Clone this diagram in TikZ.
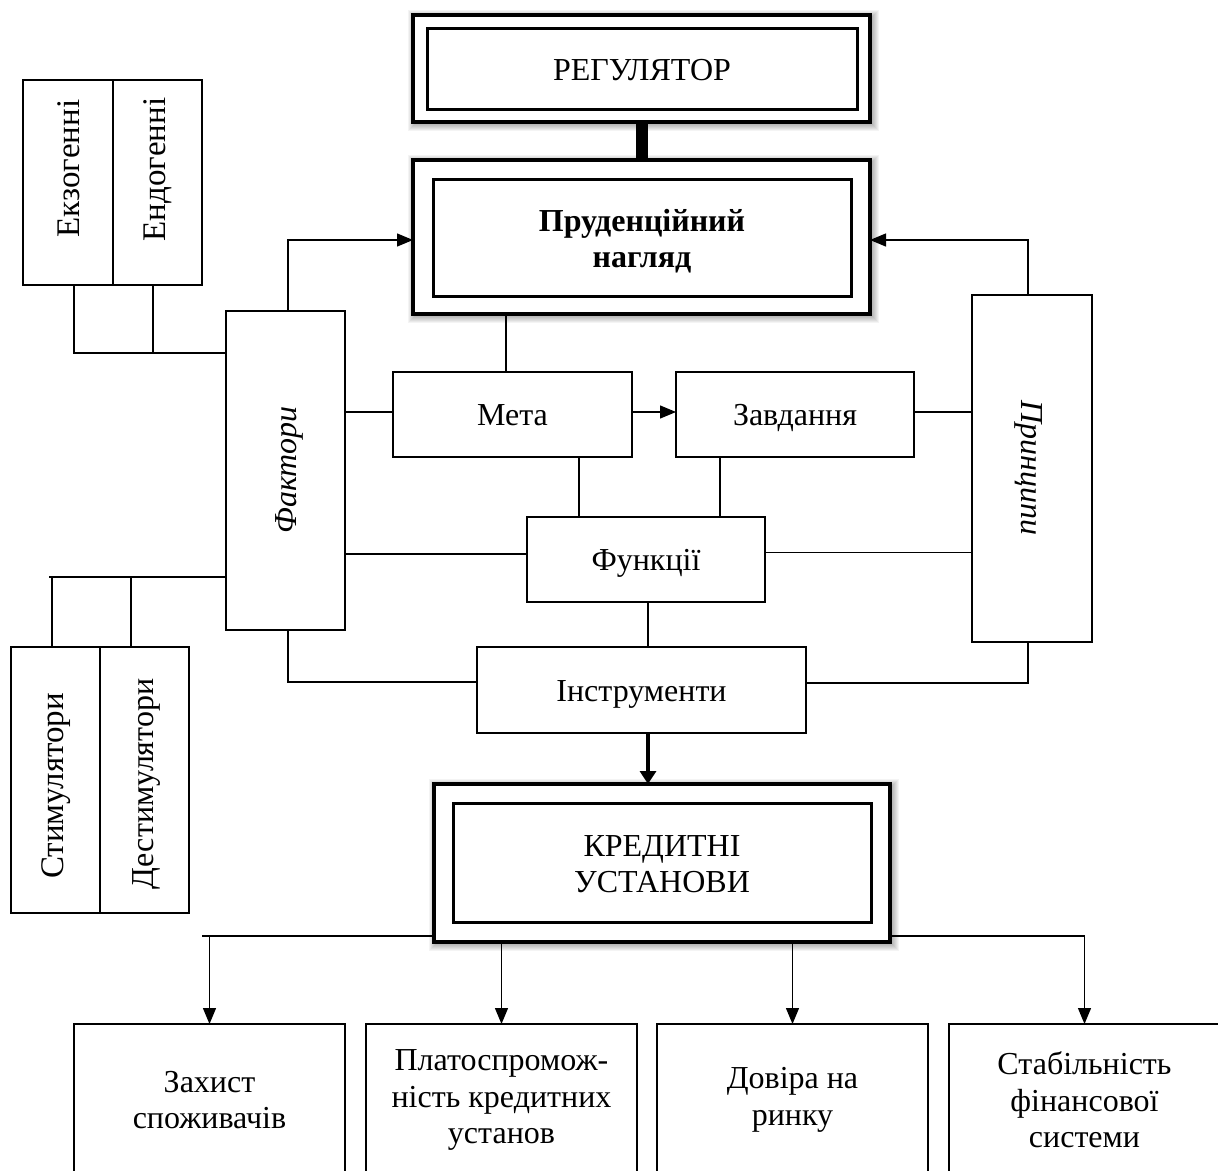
\documentclass[tikz,border=0pt]{standalone}
\usepackage{fontspec}
\setmainfont{Liberation Serif}
\usetikzlibrary{arrows.meta}
\pgfdeclarelayer{background}
\pgfsetlayers{background,main}

\begin{document}
\begin{tikzpicture}[x=1pt,y=-1pt,
  every node/.style={font=\fontsize{32}{36.5}\selectfont, outer sep=0pt, inner sep=0pt},
  box/.style={draw, line width=1.3pt, fill=white, align=center},
  oneline/.style={text height=22pt, text depth=0pt},
  outerbox/.style={draw, line width=3.5pt, fill=white},
  innerbox/.style={draw, line width=3pt},
  sidetext/.style={rotate=90},
  link/.style={line width=1.3pt},
  arr/.style={link, -{Triangle[length=16pt,width=13pt]}},
  boldarr/.style={line width=4pt, -{Triangle[length=13pt,width=16pt]}},
  bar/.style={line width=12pt},
]
\useasboundingbox (0,0) rectangle (1218,1170);
\clip (0,0) rectangle (1218,1170);

% framed main blocks
\node[outerbox, minimum width=457, minimum height=107] (reg) at (641.5,68.5) {};
\node[innerbox, minimum width=430, minimum height=81] (regin) at (642,68.5) {};
\node[oneline] (regtxt) at (642,69.5) {РЕГУЛЯТОР};

\node[outerbox, minimum width=457, minimum height=154] (prud) at (641.5,237) {};
\node[innerbox, minimum width=418, minimum height=117] (prudin) at (642,237.5) {};
\node[align=center, font=\fontsize{32}{36}\selectfont\bfseries] (prudtxt) at (642,241.5) {Пруденційний\\нагляд};

\node[outerbox, minimum width=456, minimum height=158] (kred) at (662,863) {};
\node[innerbox, minimum width=418, minimum height=119] (kredin) at (662,862.5) {};
\node[align=center] (kredtxt) at (662,864) {КРЕДИТНІ\\УСТАНОВИ};

% central blocks
\node[box, oneline, minimum width=239, minimum height=85] (meta) at (512.5,414.5) {Мета};
\node[box, oneline, minimum width=238, minimum height=85] (zad) at (795,414.5) {Завдання};
\node[box, oneline, minimum width=238, minimum height=85] (fun) at (646,559.5) {Функції};
\node[box, oneline, minimum width=329, minimum height=86] (ins) at (641.5,690) {Інструменти};

\node[box, minimum width=119, minimum height=319] (fak) at (285.5,470.5) {};
\node[rotate=90, font=\fontsize{32}{36.5}\selectfont\itshape] (faktxt) at (289,470) {Фактори};
\node[box, minimum width=120, minimum height=347] (princ) at (1032,468.5) {};
\node[rotate=-90, font=\fontsize{32}{36.5}\selectfont\itshape] (princtxt) at (1029,468) {Принципи};

% factor groups
\node[box, minimum width=90, minimum height=205] (ekzo) at (68,182.5) {};
\node[box, minimum width=89, minimum height=205] (endo) at (157.5,182.5) {};
\node[sidetext, font=\fontsize{33}{37}\selectfont] (ekzotxt) at (69,168.5) {Екзогенні};
\node[sidetext, font=\fontsize{33}{37}\selectfont] (endotxt) at (158,169.5) {Ендогенні};

\node[box, minimum width=89, minimum height=266] (stim) at (55.5,780) {};
\node[box, minimum width=89, minimum height=266] (dest) at (144.5,780) {};
\node[sidetext, font=\fontsize{33}{37}\selectfont] (stimtxt) at (56,786) {Стимулятори};
\node[sidetext] (desttxt) at (146,784) {Дестимулятори};

% outcomes
\node[box, minimum width=271, minimum height=152] (b1) at (209.5,1100) {Захист\\споживачів};
\node[box, minimum width=271, minimum height=152] (b2) at (501.5,1100) {Платоспромож-\\ність кредитних\\установ};
\node[box, minimum width=271, minimum height=152] (b3) at (792.5,1100) {Довіра на\\ринку};
\node[box, minimum width=271, minimum height=152] (b4) at (1084.5,1100) {Стабільність\\фінансової\\системи};

% connectors
\draw[bar] (reg.south) -- (prud.north);
\draw[arr] ([xshift=2.5pt]fak.north) |- ([yshift=-3pt]prud.west);
\draw[arr] ([xshift=-4pt]princ.north) |- ([yshift=-3pt]prud.east);

\draw[link] ([xshift=6pt]ekzo.south) |- ([yshift=-42pt]fak.north west);
\draw[link] ([xshift=-4.5pt]endo.south) -- ++(0,68);
\draw[link] ([yshift=-106.5pt]fak.west) -- ++(-177,0);
\draw[link] ([xshift=-3.5pt]stim.north) -- ++(0,-70);
\draw[link] ([xshift=-13.5pt]dest.north) -- ++(0,-70);

\draw[link] ([yshift=2.5pt]meta.west) -- ++(-48,0);
\draw[arr] ([yshift=2.5pt]meta.east) -- ([yshift=2.5pt]zad.west);
\draw[link] ([yshift=2.5pt]zad.east) -- ++(58,0);
\draw[link] ([xshift=-6.5pt]meta.north) -- ++(0,-58);
\draw[link] ([xshift=66.5pt]meta.south) -- ++(0,60);
\draw[link] ([xshift=-75pt]zad.south) -- ++(0,60);
\draw[link] ([yshift=5.5pt]fun.west) -- ++(-182,0);
\draw[link] ([yshift=7pt]fun.east) -- ++(207,0);
\draw[link] ([xshift=2pt]fun.south) -- ++(0,45);
\draw[link] ([xshift=2.5pt]fak.south) |- ([yshift=8pt]ins.west);
\draw[link] ([xshift=-4pt]princ.south) |- ([yshift=7pt]ins.east);
\draw[boldarr] ([xshift=6.5pt]ins.south) -- ++(0,51);

\coordinate (busL) at ([yshift=-73pt]kred.west);
\coordinate (busR) at ([yshift=-73pt]kred.east);
\draw[link] (busL) -- ++(-232,0);
\draw[arr] (busL -| b1.north) -- (b1.north);
\draw[arr] (kred.south -| b2.north) -- (b2.north);
\draw[arr] (kred.south -| b3.north) -- (b3.north);
\draw[arr] (busR) -| (b4.north);

% soft shadows behind the framed blocks
\begin{pgfonlayer}{background}
  \fill[white] (0,0) rectangle (1218,1170);
  \foreach \n in {reg,prud,kred}{
    \foreach \s in {1,...,7}{
      \fill[black,opacity=0.045]
        ([xshift={(2-\s)*1pt},yshift={(-2+\s)*1pt}]\n.north west)
        rectangle ([xshift={(2+\s)*1pt},yshift={(-2-\s)*1pt}]\n.south east);
    }
  }
\end{pgfonlayer}
\end{tikzpicture}
\end{document}
